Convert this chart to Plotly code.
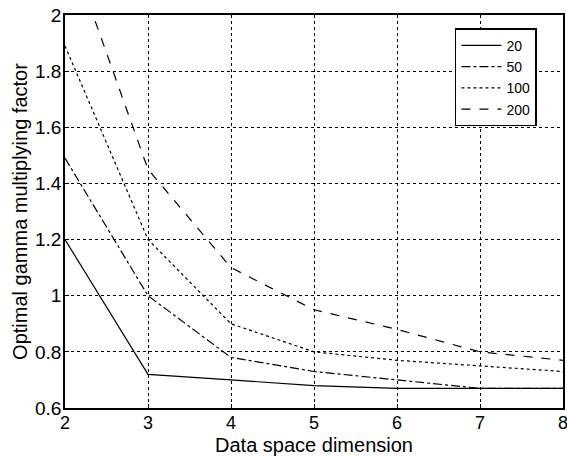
import plotly.graph_objects as go

dims = [2, 3, 4, 5, 6, 7, 8]
series_names = ["20", "50", "100", "200"]
vals_20 = [1.20, 0.72, 0.70, 0.68, 0.67, 0.67, 0.67]
vals_50 = [1.49, 1.00, 0.78, 0.73, 0.70, 0.67, 0.67]
vals_100 = [1.89, 1.20, 0.90, 0.80, 0.77, 0.75, 0.73]
vals_200 = [2.28, 1.45, 1.10, 0.95, 0.88, 0.80, 0.77]
y_ticks = [0.6, 0.8, 1.0, 1.2, 1.4, 1.6, 1.8, 2.0]
y_tick_labels = ["0.6", "0.8", "1", "1.2", "1.4", "1.6", "1.8", "2"]
x_ticks = [2, 3, 4, 5, 6, 7, 8]

dashes = ["solid", "dashdot", "dot", "dash"]
all_vals = [vals_20, vals_50, vals_100, vals_200]

fig = go.Figure()
for name, v, d in zip(series_names, all_vals, dashes):
    fig.add_trace(go.Scatter(x=dims, y=v, mode="lines", name=name,
                             line=dict(color="black", width=1.2, dash=d)))

font_family = "Liberation Sans, Arial, sans-serif"
fig.update_layout(
    width=567, height=456,
    margin=dict(l=65, r=4, t=15, b=48),
    paper_bgcolor="white", plot_bgcolor="white",
    font=dict(family=font_family, color="black", size=20),
    showlegend=True,
    legend=dict(x=0.783, y=0.966, xanchor="left", yanchor="top",
                bordercolor="black", borderwidth=1.5, bgcolor="white",
                font=dict(size=14), tracegroupgap=0, itemwidth=40),
)
fig.update_xaxes(range=[2, 8], tickvals=x_ticks, showgrid=True, gridcolor="black",
                 griddash="dot", gridwidth=1, showline=True, linecolor="black",
                 linewidth=1.5, mirror=True, ticks="inside", ticklen=4,
                 tickcolor="black", zeroline=False, automargin=False,
                 ticklabeloverflow="allow", ticklabelstandoff=-2,
                 title=dict(text="Data space dimension", font=dict(size=20)),
                 tickfont=dict(size=18))
fig.update_yaxes(range=[0.6, 2.0], tickvals=y_ticks, ticktext=y_tick_labels,
                 showgrid=True, gridcolor="black", griddash="dot", gridwidth=1,
                 showline=True, linecolor="black", linewidth=1.5, mirror=True,
                 ticks="inside", ticklen=4, tickcolor="black", zeroline=False,
                 automargin=False, ticklabeloverflow="allow", ticklabelstandoff=-2,
                 title=dict(text="Optimal gamma multiplying factor", standoff=2, font=dict(size=20)),
                 tickfont=dict(size=19))

fig.write_html("out.html", config={"displayModeBar": False},
               post_script="document.body.style.margin='0';")
